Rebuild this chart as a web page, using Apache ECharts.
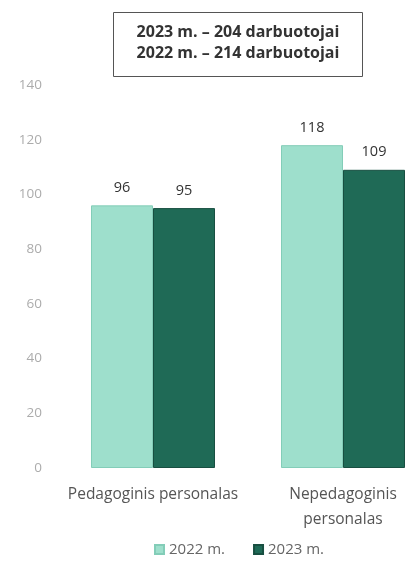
<!DOCTYPE html>
<html>
<head>
<meta charset="utf-8">
<script src="https://cdn.jsdelivr.net/npm/echarts@6/dist/echarts.min.js"></script>
<style>html,body{margin:0;padding:0;background:#fff}#c{width:406px;height:567px}</style>
</head>
<body>
<div id="c"></div>
<script>
var categories = ["Pedagoginis personalas", "Nepedagoginis\npersonalas"];
var seriesNames = ["2022 m.", "2023 m."];
var values2022 = [96, 118];
var values2023 = [95, 109];
var boxLines = ["2023 m. – 204 darbuotojai", "2022 m. – 214 darbuotojai"];
var yTicks = { min: 0, max: 140, interval: 20 };

var chart = echarts.init(document.getElementById('c'), null, { renderer: 'canvas' });
var font = '"Open Sans", "Liberation Sans", sans-serif';
chart.setOption({
  animation: false,
  textStyle: { fontFamily: font },
  graphic: [
    { type: 'rect', shape: { x: 113.5, y: 12.5, width: 249, height: 64 },
      style: { fill: '#fff', stroke: '#555', lineWidth: 1 } },
    { type: 'text', x: 238, y: 43,
      style: { text: boxLines.join('\n'), font: 'bold 16px ' + font, fill: '#333',
               textAlign: 'center', textVerticalAlign: 'middle', lineHeight: 21 } }
  ],
  legend: {
    data: seriesNames, top: 542, left: 154, icon: 'rect',
    itemWidth: 9, itemHeight: 9, itemGap: 28, padding: 0,
    textStyle: { color: '#666', fontSize: 15, fontFamily: font }
  },
  grid: { left: 58, top: 85, width: 380, height: 383, containLabel: false, outerBoundsMode: 'none' },
  xAxis: {
    type: 'category', data: categories,
    axisLine: { show: false }, axisTick: { show: false },
    axisLabel: { color: '#555', fontSize: 15.5, lineHeight: 25, margin: 14, interval: 0, fontFamily: font }
  },
  yAxis: {
    type: 'value', min: yTicks.min, max: yTicks.max, interval: yTicks.interval,
    splitLine: { show: false }, axisLine: { show: false }, axisTick: { show: false },
    axisLabel: { color: '#acacac', fontSize: 13.5, margin: 16, fontFamily: font }
  },
  series: [
    { name: seriesNames[0], type: 'bar', data: values2022, barWidth: 62, barGap: '0%',
      itemStyle: { color: '#9edfcc', borderColor: '#83cdb8', borderWidth: 1 },
      label: { show: true, position: 'top', distance: 10, color: '#333', fontSize: 14.5, fontFamily: font } },
    { name: seriesNames[1], type: 'bar', data: values2023, barWidth: 62, barGap: '0%',
      itemStyle: { color: '#1f6a56', borderColor: '#184f41', borderWidth: 1 },
      label: { show: true, position: 'top', distance: 10, color: '#333', fontSize: 14.5, fontFamily: font } }
  ]
});
</script>
</body>
</html>
